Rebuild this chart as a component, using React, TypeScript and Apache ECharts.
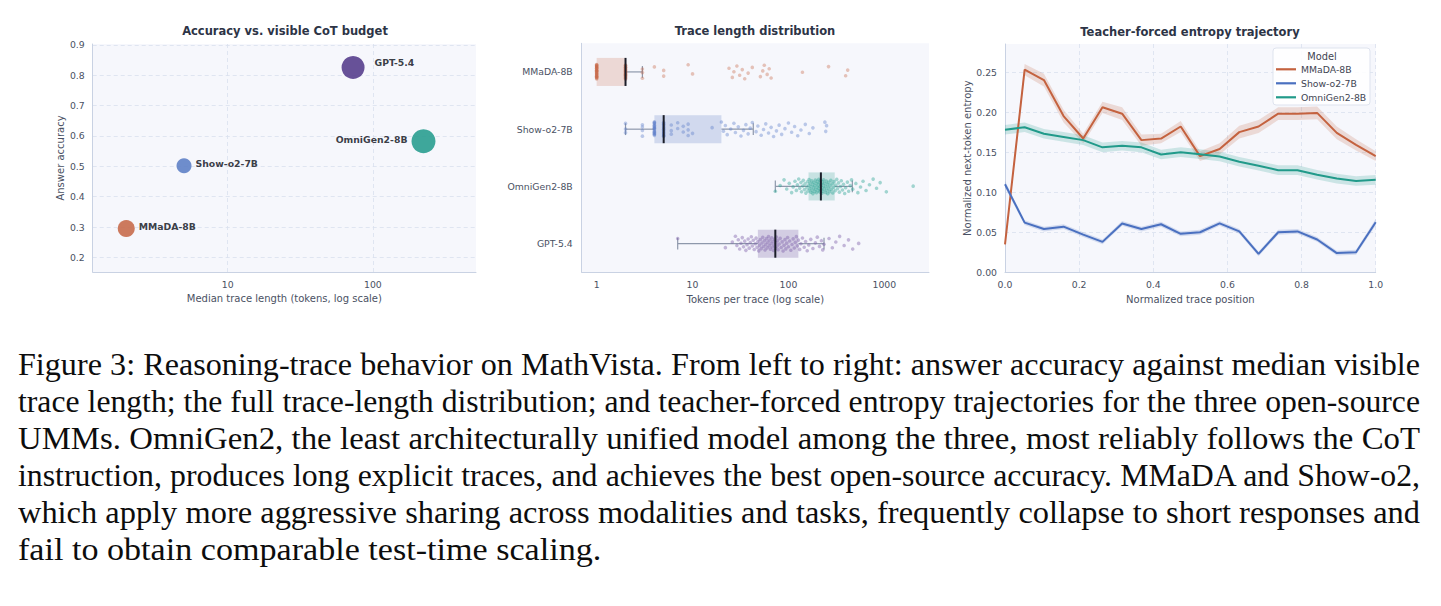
import React, { useEffect, useRef } from "react";
import * as echarts from "echarts";

// ---------- data ----------
const MODELS = ["MMaDA-8B", "Show-o2-7B", "OmniGen2-8B", "GPT-5.4"];
const MEDIAN_TOKENS = [2, 5, 223, 73];
const ACCURACY = [0.295, 0.502, 0.583, 0.826];

// [whisker low, Q1, median, Q3, whisker high]
const MMADA_BOX = [1, 1, 2, 2, 3];
const SHOW_BOX = [2, 4, 5, 20, 43];
const OMNI_BOX = [73, 162, 218, 304, 464];
const GPT_BOX = [7, 48, 73, 127, 235];

const MMADA_TOKENS = [
  1, 1, 1, 1, 1, 1, 1, 1, 1, 1, 1, 1, 1, 1, 1, 1, 1, 1, 1, 1, 1, 1, 1, 1, 1, 1, 1, 1, 1, 1,
  2, 2, 2, 2, 2, 2, 2, 2, 2, 2, 2, 2, 2, 2, 2, 2, 2, 2, 2, 2, 2, 2,
  3, 3, 3, 4, 5, 5, 9, 10, 24, 26, 27, 29, 31, 33, 35, 38, 42, 51, 54, 56, 60, 63, 66, 140, 262, 395, 415,
];
const SHOW_TOKENS = [
  2, 2, 2, 3, 3, 3, 3,
  4, 4, 4, 4, 4, 4, 4, 4, 4, 4, 4, 4, 4, 4, 4, 4, 4, 4,
  5, 5, 5, 5, 5, 5, 5, 5, 5, 5, 5, 5, 5, 5,
  6, 6, 6, 7, 7, 8, 8, 9, 9, 9, 10, 16, 20, 21, 22, 23, 25, 27, 28, 30, 32, 34, 36, 38, 40, 42,
  46, 48, 52, 55, 58, 62, 66, 70, 75, 80, 85, 92, 100, 108, 116, 125, 135, 150, 165, 180, 240, 245, 250,
];
const OMNI_TOKENS = [
  73, 82, 90, 96, 102, 108, 112, 117, 121, 124, 128, 131, 135, 137, 141, 143, 147, 149, 152, 156,
  158, 160, 163, 164, 167, 168, 171, 172, 175, 176, 179, 180, 183, 184, 187, 188, 191, 192, 195, 196,
  199, 200, 203, 204, 207, 208, 211, 212, 215, 216, 219, 220, 223, 224, 227, 228, 231, 233, 236, 239,
  243, 245, 249, 251, 255, 257, 261, 264, 269, 272, 277, 280, 286, 290, 296, 300, 307, 312, 319, 325,
  333, 340, 349, 356, 366, 375, 386, 395, 412, 425, 441, 455, 468, 505, 530, 565, 600, 645, 700, 765,
  830, 905, 1050, 2000,
];
const GPT_TOKENS = [
  7, 22, 26, 28, 29, 30, 31, 32, 33, 34, 35, 36, 37, 38, 39, 40, 41, 42, 43, 44, 45, 46, 47, 48, 49,
  50, 51, 52, 53, 54, 55, 56, 57, 58, 59, 60, 61, 62, 63, 64, 65, 66, 67, 68, 69, 70, 71, 72, 73, 74,
  75, 76, 77, 78, 80, 82, 84, 86, 88, 90, 92, 94, 96, 98, 100, 103, 106, 109, 112, 115, 118, 121, 124,
  127, 131, 135, 140, 146, 151, 157, 163, 171, 180, 191, 200, 211, 221, 228, 235, 265, 287, 312, 342,
  381, 423, 468, 540,
];

const POSITIONS = [
  0, 0.053, 0.105, 0.158, 0.211, 0.263, 0.316, 0.368, 0.421, 0.474,
  0.526, 0.579, 0.632, 0.684, 0.737, 0.789, 0.842, 0.895, 0.947, 1,
];
const MMADA_ENTROPY = [
  0.035, 0.253, 0.24, 0.195, 0.167, 0.206, 0.198, 0.165, 0.167, 0.182,
  0.145, 0.154, 0.175, 0.182, 0.198, 0.198, 0.199, 0.174, 0.159, 0.145,
];
const SHOW_ENTROPY = [
  0.11, 0.062, 0.054, 0.057, 0.047, 0.038, 0.061, 0.054, 0.06, 0.048,
  0.05, 0.061, 0.051, 0.023, 0.05, 0.051, 0.041, 0.024, 0.025, 0.0625,
];
const OMNI_ENTROPY = [
  0.178, 0.181, 0.173, 0.169, 0.165, 0.156, 0.158, 0.156, 0.147, 0.15,
  0.1475, 0.1446, 0.138, 0.133, 0.1275, 0.1275, 0.1217, 0.117, 0.114, 0.1154,
];
const MMADA_CI = [
  0.004, 0.007, 0.008, 0.008, 0.006, 0.007, 0.008, 0.007, 0.006, 0.007,
  0.006, 0.007, 0.008, 0.008, 0.008, 0.008, 0.008, 0.008, 0.007, 0.006,
];
const SHOW_CI = [
  0.004, 0.003, 0.003, 0.003, 0.003, 0.003, 0.003, 0.003, 0.003, 0.003,
  0.003, 0.003, 0.003, 0.003, 0.003, 0.003, 0.003, 0.003, 0.003, 0.004,
];
const OMNI_CI = [
  0.006, 0.006, 0.006, 0.006, 0.006, 0.006, 0.006, 0.006, 0.006, 0.006,
  0.006, 0.006, 0.006, 0.006, 0.006, 0.006, 0.006, 0.006, 0.006, 0.006,
];

const LEFT_X_TICKS = [10, 100];
const LEFT_Y_TICKS = [0.2, 0.3, 0.4, 0.5, 0.6, 0.7, 0.8, 0.9];
const MID_X_TICKS = [1, 10, 100, 1000];
const RIGHT_Y_TICKS = [0, 0.05, 0.1, 0.15, 0.2, 0.25];

const CAPTION_LINES = [
  "Figure 3: Reasoning-trace behavior on MathVista. From left to right: answer accuracy against median visible",
  "trace length; the full trace-length distribution; and teacher-forced entropy trajectories for the three open-source",
  "UMMs. OmniGen2, the least architecturally unified model among the three, most reliably follows the CoT",
  "instruction, produces long explicit traces, and achieves the best open-source accuracy. MMaDA and Show-o2,",
  "which apply more aggressive sharing across modalities and tasks, frequently collapse to short responses and",
  "fail to obtain comparable test-time scaling.",
];

// ---------- styles ----------
const FONT = "DejaVu Sans";
const LINE_COLORS = ["#C4623F", "#4A70C0", "#219A8A", "#573D8C"];
const BUBBLE_COLORS = ["#C86C4C", "#5F81C6", "#2A9D90", "#583E8D"];
const BUBBLE_SIZES = [17, 15, 24, 23];
const BOX_FILLS = [
  "rgba(200,108,76,0.22)",
  "rgba(76,112,192,0.22)",
  "rgba(33,154,138,0.22)",
  "rgba(87,61,140,0.22)",
];
const POINT_COLORS = [
  "rgba(200,106,74,0.38)",
  "rgba(86,121,200,0.38)",
  "rgba(42,165,147,0.42)",
  "rgba(122,91,168,0.42)",
];
const BAND_COLORS = [
  "rgba(196,98,63,0.2)",
  "rgba(74,112,192,0.2)",
  "rgba(33,154,138,0.2)",
];
const PLOT_BG = "#F6F7FC";
const AXIS_LINE = "#C9D2E3";
const GRID_LINE = "#D9E0EE";
const TICK_COLOR = "#4A5163";
const TITLE_COLOR = "#2D3446";

const log10 = (v: number) => Math.log10(v);
const jitterAt = (i: number) => ((i * 0.6180339887 + 0.17) % 1) * 2 - 1;

function buildOption() {
  const axisCommon = {
    axisTick: { show: false },
    axisLine: { show: true, onZero: false, lineStyle: { color: AXIS_LINE, width: 1 } },
    axisLabel: { color: TICK_COLOR, fontSize: 9.3, fontFamily: FONT, margin: 8 },
    nameTextStyle: { color: TICK_COLOR, fontSize: 10, fontFamily: FONT },
    nameLocation: "middle" as const,
  };
  const dashed = { show: true, lineStyle: { color: GRID_LINE, type: [4, 3], width: 0.8 } };

  // --- left scatter ---
  const scatterData = MODELS.map((m, i) => ({
    name: m,
    value: [log10(MEDIAN_TOKENS[i]), ACCURACY[i]],
    symbolSize: BUBBLE_SIZES[i],
    itemStyle: { color: BUBBLE_COLORS[i], opacity: 0.9 },
    label: {
      show: true,
      formatter: m,
      position: i === 2 ? "left" : "right",
      distance: i === 3 ? 10 : 4,
      offset: i === 3 ? [0, -5] : [0, -2],
      fontWeight: "bold",
      fontSize: 9.3,
      fontFamily: FONT,
      color: "#23262F",
    },
  }));

  // --- middle box plot ---
  const boxes = [MMADA_BOX, SHOW_BOX, OMNI_BOX, GPT_BOX];
  const tokenLists = [MMADA_TOKENS, SHOW_TOKENS, OMNI_TOKENS, GPT_TOKENS];
  const boxData = boxes.map((b, i) => [i, ...b.map(log10)]);
  const stripData: number[][] = [];
  tokenLists.forEach((list, cat) => {
    list.forEach((v, j) => stripData.push([log10(v), cat, jitterAt(j + cat * 7)]));
  });

  const boxRender = (params: any, api: any) => {
    const cat = api.value(0);
    const lo = api.value(1), q1 = api.value(2), q3 = api.value(4), hi = api.value(5);
    const pQ1 = api.coord([q1, cat]);
    const y = pQ1[1];
    const band = api.size([0, 1])[1];
    const h = band * 0.49;
    const capH = h * 0.42;
    const xLo = api.coord([lo, cat])[0];
    const xQ1 = pQ1[0];
    const xQ3 = api.coord([q3, cat])[0];
    const xHi = api.coord([hi, cat])[0];
    const ws = { stroke: "#8E98AB", lineWidth: 1.2 };
    const children: any[] = [
      { type: "rect", shape: { x: xQ1, y: y - h / 2, width: xQ3 - xQ1, height: h }, style: { fill: BOX_FILLS[params.dataIndex] } },
    ];
    if (xLo < xQ1 - 0.5) {
      children.push({ type: "line", shape: { x1: xLo, y1: y, x2: xQ1, y2: y }, style: ws });
      children.push({ type: "line", shape: { x1: xLo, y1: y - capH / 2, x2: xLo, y2: y + capH / 2 }, style: ws });
    }
    if (xHi > xQ3 + 0.5) {
      children.push({ type: "line", shape: { x1: xQ3, y1: y, x2: xHi, y2: y }, style: ws });
      children.push({ type: "line", shape: { x1: xHi, y1: y - capH / 2, x2: xHi, y2: y + capH / 2 }, style: ws });
    }
    return { type: "group", children };
  };
  const medianRender = (params: any, api: any) => {
    const cat = api.value(0);
    const p = api.coord([api.value(3), cat]);
    const band = api.size([0, 1])[1];
    const h = band * 0.49;
    return {
      type: "line",
      shape: { x1: p[0], y1: p[1] - h / 2, x2: p[0], y2: p[1] + h / 2 },
      style: { stroke: "#1B1E29", lineWidth: 2 },
    };
  };
  const stripRender = (params: any, api: any) => {
    const cat = api.value(1);
    const p = api.coord([api.value(0), cat]);
    const band = api.size([0, 1])[1];
    return {
      type: "circle",
      shape: { cx: p[0], cy: p[1] + api.value(2) * band * 0.13, r: 1.8 },
      style: { fill: POINT_COLORS[cat] },
    };
  };

  // --- right entropy ---
  const entropies = [MMADA_ENTROPY, SHOW_ENTROPY, OMNI_ENTROPY];
  const cis = [MMADA_CI, SHOW_CI, OMNI_CI];
  const bandSeries = entropies.map((vals, k) => ({
    type: "custom",
    xAxisIndex: 2,
    yAxisIndex: 2,
    silent: true,
    z: 1,
    data: [[0, 0]],
    renderItem: (params: any, api: any) => {
      const upper = POSITIONS.map((x, i) => api.coord([x, vals[i] + cis[k][i]]));
      const lower = POSITIONS.map((x, i) => api.coord([x, vals[i] - cis[k][i]])).reverse();
      return { type: "polygon", shape: { points: upper.concat(lower) }, style: { fill: BAND_COLORS[k] } };
    },
  }));
  const lineSeries = entropies.map((vals, k) => ({
    type: "line",
    name: MODELS[k],
    xAxisIndex: 2,
    yAxisIndex: 2,
    symbol: "none",
    z: 3,
    lineStyle: { color: LINE_COLORS[k], width: 2 },
    itemStyle: { color: LINE_COLORS[k] },
    data: POSITIONS.map((x, i) => [x, vals[i]]),
  }));

  return {
    animation: false,
    backgroundColor: "#ffffff",
    textStyle: { fontFamily: FONT },
    grid: [
      { left: 92.7, top: 44, width: 383.3, height: 228, show: true, backgroundColor: PLOT_BG, borderWidth: 0 },
      { left: 581.7, top: 43.3, width: 347.3, height: 229, show: true, backgroundColor: PLOT_BG, borderWidth: 0 },
      { left: 1005, top: 44, width: 370.7, height: 228.3, show: true, backgroundColor: PLOT_BG, borderWidth: 0 },
    ],
    xAxis: [
      {
        ...axisCommon,
        gridIndex: 0,
        type: "value",
        min: 0.07,
        max: 2.71,
        name: "Median trace length (tokens, log scale)",
        nameGap: 21,
        axisTick: { show: false, customValues: LEFT_X_TICKS.map(log10) },
        axisLabel: {
          ...axisCommon.axisLabel,
          customValues: LEFT_X_TICKS.map(log10),
          formatter: (v: number) => String(Math.round(Math.pow(10, v))),
        },
        splitLine: dashed,
      },
      {
        ...axisCommon,
        gridIndex: 1,
        type: "value",
        min: -0.156,
        max: 3.466,
        name: "Tokens per trace (log scale)",
        nameGap: 21,
        axisTick: { show: false, customValues: MID_X_TICKS.map(log10) },
        axisLabel: {
          ...axisCommon.axisLabel,
          customValues: MID_X_TICKS.map(log10),
          formatter: (v: number) => String(Math.round(Math.pow(10, v))),
        },
        splitLine: { show: false },
      },
      {
        ...axisCommon,
        gridIndex: 2,
        type: "value",
        min: 0,
        max: 1,
        interval: 0.2,
        name: "Normalized trace position",
        nameGap: 21,
        axisLabel: { ...axisCommon.axisLabel, formatter: (v: number) => v.toFixed(1) },
        splitLine: dashed,
      },
    ],
    yAxis: [
      {
        ...axisCommon,
        gridIndex: 0,
        type: "value",
        min: 0.152,
        max: 0.903,
        name: "Answer accuracy",
        nameGap: 27,
        axisTick: { show: false, customValues: LEFT_Y_TICKS },
        axisLabel: { ...axisCommon.axisLabel, customValues: LEFT_Y_TICKS, formatter: (v: number) => v.toFixed(1) },
        splitLine: dashed,
      },
      {
        ...axisCommon,
        gridIndex: 1,
        type: "category",
        inverse: true,
        data: MODELS,
        axisLabel: { ...axisCommon.axisLabel, margin: 9 },
        splitLine: { show: false },
      },
      {
        ...axisCommon,
        gridIndex: 2,
        type: "value",
        min: 0,
        max: 0.285,
        name: "Normalized next-token entropy",
        nameGap: 33,
        axisTick: { show: false, customValues: RIGHT_Y_TICKS },
        axisLabel: { ...axisCommon.axisLabel, customValues: RIGHT_Y_TICKS, formatter: (v: number) => v.toFixed(2) },
        splitLine: dashed,
      },
    ],
    legend: {
      data: MODELS.slice(0, 3),
      orient: "vertical",
      left: 1276,
      top: 64.3,
      padding: 0,
      icon: "rect",
      itemWidth: 20,
      itemHeight: 2.2,
      itemGap: 4,
      z: 6,
      textStyle: { fontSize: 9.3, lineHeight: 10, color: "#3F4452", fontFamily: FONT },
    },
    graphic: [
      { type: "text", x: 285, y: 31, z: 5, style: { text: "Accuracy vs. visible CoT budget", font: `bold 11.5px "${FONT}"`, fill: TITLE_COLOR, align: "center", verticalAlign: "middle" } },
      { type: "text", x: 755, y: 31, z: 5, style: { text: "Trace length distribution", font: `bold 11.5px "${FONT}"`, fill: TITLE_COLOR, align: "center", verticalAlign: "middle" } },
      { type: "text", x: 1190, y: 32, z: 5, style: { text: "Teacher-forced entropy trajectory", font: `bold 11.5px "${FONT}"`, fill: TITLE_COLOR, align: "center", verticalAlign: "middle" } },
      { type: "rect", z: 5, shape: { x: 1273, y: 48, width: 97, height: 57, r: 3 }, style: { fill: "rgba(255,255,255,0.88)", stroke: "#DEE3EE", lineWidth: 1 } },
      { type: "text", x: 1322, y: 56, z: 6, style: { text: "Model", font: `9.8px "${FONT}"`, fill: "#3F4452", align: "center", verticalAlign: "middle" } },
    ],
    series: [
      { type: "scatter", xAxisIndex: 0, yAxisIndex: 0, data: scatterData, z: 3 },
      { type: "custom", xAxisIndex: 1, yAxisIndex: 1, renderItem: boxRender, data: boxData, encode: { x: [1, 2, 3, 4, 5], y: 0 }, z: 1, silent: true },
      { type: "custom", xAxisIndex: 1, yAxisIndex: 1, renderItem: stripRender, data: stripData, encode: { x: 0, y: 1 }, z: 2, silent: true },
      { type: "custom", xAxisIndex: 1, yAxisIndex: 1, renderItem: medianRender, data: boxData, encode: { x: [1, 2, 3, 4, 5], y: 0 }, z: 3, silent: true },
      ...bandSeries,
      ...lineSeries,
    ],
  };
}

function Chart() {
  const ref = useRef<HTMLDivElement>(null);
  useEffect(() => {
    if (!ref.current) return;
    const chart = echarts.init(ref.current, undefined, { renderer: "svg" });
    chart.setOption(buildOption() as any);
    return () => chart.dispose();
  }, []);
  return <div ref={ref} style={{ position: "absolute", left: 0, top: 0, width: 1441, height: 322 }} />;
}

const CAPTION_FONT = '"Liberation Serif", "Times New Roman", serif';
const CAPTION_SIZE = 31;
const CAPTION_MAX_SCALE = 1.1;
const CAPTION_WIDTH = 1402;

function measure(text: string): number {
  const canvas = document.createElement("canvas");
  const ctx = canvas.getContext("2d");
  if (!ctx) return text.length * CAPTION_SIZE * 0.45;
  ctx.font = `${CAPTION_SIZE}px ${CAPTION_FONT}`;
  return ctx.measureText(text).width;
}

export default function App() {
  return (
    <div style={{ position: "absolute", left: 0, top: 0, width: 1441, height: 606, background: "#fff", overflow: "hidden" }}>
      <Chart />
      {CAPTION_LINES.map((line, i) => {
        const last = i === CAPTION_LINES.length - 1;
        const natural = measure(line);
        const scale = last ? CAPTION_MAX_SCALE : Math.min(CAPTION_MAX_SCALE, (CAPTION_WIDTH - 2) / natural);
        return (
          <div
            key={i}
            style={{
              position: "absolute",
              left: 18,
              top: 346 + i * 37,
              width: CAPTION_WIDTH / scale,
              transform: `scaleX(${scale})`,
              transformOrigin: "0 0",
              fontFamily: CAPTION_FONT,
              fontSize: CAPTION_SIZE,
              lineHeight: "37px",
              color: "#0d0d0d",
              whiteSpace: "nowrap",
              textAlign: last ? "left" : "justify",
              textAlignLast: last ? "left" : "justify",
            } as React.CSSProperties}
          >
            {line}
          </div>
        );
      })}
    </div>
  );
}
